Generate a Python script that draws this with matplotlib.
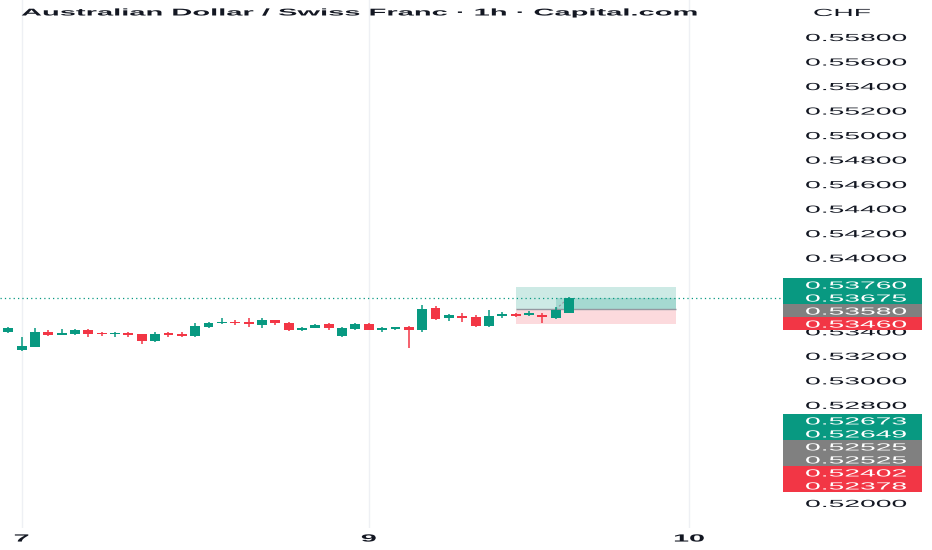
import numpy as np
import matplotlib
matplotlib.use('Agg')
import matplotlib.pyplot as plt
from matplotlib.patches import Rectangle
from matplotlib.patheffects import AbstractPathEffect
from matplotlib.transforms import Affine2D
from matplotlib.ticker import FuncFormatter

# hourly AUD/CHF candles
opens = [0.53393, 0.53246, 0.53275, 0.53398, 0.53371, 0.53376, 0.53414, 0.53381, 0.53376, 0.53387,
         0.53376, 0.53322, 0.53376, 0.53376, 0.53365, 0.53438, 0.53466, 0.53479, 0.53474, 0.53452,
         0.53491, 0.53469, 0.53409, 0.53430, 0.53458, 0.53365, 0.53420, 0.53458, 0.53414, 0.53420,
         0.53436, 0.53412, 0.53593, 0.53507, 0.53528, 0.53517, 0.53447, 0.53528, 0.53539, 0.53534,
         0.53536, 0.53507, 0.53553]
highs = [0.53432, 0.53357, 0.53425, 0.53412, 0.53420, 0.53418, 0.53418, 0.53398, 0.53398, 0.53392,
         0.53381, 0.53393, 0.53393, 0.53393, 0.53466, 0.53474, 0.53512, 0.53495, 0.53512, 0.53512,
         0.53495, 0.53479, 0.53436, 0.53463, 0.53466, 0.53436, 0.53466, 0.53466, 0.53438, 0.53436,
         0.53447, 0.53615, 0.53610, 0.53539, 0.53548, 0.53534, 0.53575, 0.53561, 0.53548, 0.53569,
         0.53552, 0.53597, 0.53680]
lows = [0.53387, 0.53240, 0.53270, 0.53365, 0.53368, 0.53372, 0.53357, 0.53365, 0.53357, 0.53357,
        0.53295, 0.53311, 0.53350, 0.53350, 0.53350, 0.53425, 0.53462, 0.53452, 0.53436, 0.53430,
        0.53452, 0.53403, 0.53403, 0.53425, 0.53412, 0.53355, 0.53412, 0.53409, 0.53398, 0.53409,
        0.53262, 0.53393, 0.53493, 0.53485, 0.53479, 0.53436, 0.53436, 0.53512, 0.53517, 0.53526,
        0.53471, 0.53499, 0.53548]
closes = [0.53425, 0.53284, 0.53398, 0.53371, 0.53381, 0.53414, 0.53376, 0.53376, 0.53381, 0.53371,
          0.53322, 0.53381, 0.53371, 0.53365, 0.53447, 0.53466, 0.53479, 0.53466, 0.53463, 0.53495,
          0.53469, 0.53409, 0.53425, 0.53452, 0.53430, 0.53425, 0.53458, 0.53414, 0.53425, 0.53430,
          0.53414, 0.53583, 0.53501, 0.53534, 0.53512, 0.53447, 0.53528, 0.53539, 0.53528, 0.53548,
          0.53515, 0.53575, 0.53675]

day_pos = [1, 27, 51]
day_labels = ['7', '9', '10']
price_ticks = np.round(np.arange(0.520, 0.5585, 0.002), 3)

# long position tool
pos_start, pos_end, fill_start = 38, 50, 41
target, entry, stop = 0.53760, 0.53580, 0.53460

# price scale labels
top_vals = [0.53760, 0.53675, 0.53580, 0.53460]
top_kinds = ['g', 'g', 'n', 'r']
low_vals = [0.52673, 0.52649, 0.52525, 0.52525, 0.52402, 0.52378]
low_kinds = ['g', 'g', 'n', 'n', 'r', 'r']

title = 'Australian Dollar / Swiss Franc \u00b7 1h \u00b7 Capital.com'

GREEN = '#089981'
RED = '#f23645'
GREY = '#808080'
INK = '#131722'
box_col = {'g': GREEN, 'r': RED, 'n': GREY}
SX = 2.75

plt.rcParams['font.family'] = ['Liberation Sans', 'DejaVu Sans']


class Wide(AbstractPathEffect):
    """draw text stretched sideways, like the squashed screenshot"""
    def __init__(self, sx, anchor='left'):
        super().__init__()
        self.sx = sx
        self.anchor = anchor

    def draw_path(self, renderer, gc, tpath, affine, rgbFace=None):
        ext = tpath.get_extents()
        cx = {'left': 0.0, 'center': (ext.x0 + ext.x1) / 2, 'right': ext.x1}[self.anchor]
        st = Affine2D().translate(-cx, 0).scale(self.sx, 1).translate(cx, 0)
        renderer.draw_path(gc, tpath, st + affine, rgbFace)


W, H = 932, 550
ax_w, ax_h = 792, 528
fig = plt.figure(figsize=(W / 100, H / 100), dpi=100)
ax = fig.add_axes([0, (H - ax_h) / H, ax_w / W, ax_h / H])
ax.set_xlim(-0.62, 58.7)
ax.set_ylim(0.51796, 0.56102)

o = np.array(opens)
h = np.array(highs)
l = np.array(lows)
c = np.array(closes)
x = np.arange(len(o))
cols = np.where(c >= o, GREEN, RED)
ax.vlines(x, l, h, colors=cols, linewidth=1.1, zorder=3)
ax.bar(x, np.maximum(np.abs(c - o), 0.00013), bottom=np.minimum(o, c), width=0.74,
       color=cols, linewidth=0, zorder=4)

# position zones
ax.add_patch(Rectangle((pos_start, entry), pos_end - pos_start, target - entry,
                       facecolor=GREEN, alpha=0.2, lw=0, zorder=1))
ax.add_patch(Rectangle((pos_start, stop), pos_end - pos_start, entry - stop,
                       facecolor=RED, alpha=0.18, lw=0, zorder=1))
ax.add_patch(Rectangle((fill_start, entry), pos_end - fill_start, c[-1] - entry,
                       facecolor=GREEN, alpha=0.2, lw=0, zorder=1.1))
ax.hlines(entry, pos_start, pos_end, color='#9598a1', lw=1, zorder=1.2)
ax.plot([fill_start, x[-1]], [entry, c[-1]], color='#9598a1', lw=0.8, ls=(0, (2, 2)), zorder=2)

ax.axhline(c[-1], color=GREEN, lw=0.9, ls=(0, (1, 2.5)), zorder=2)

# label stacks: row centres on the price scale
yr = ax.get_ylim()
row_h = 13 * (yr[1] - yr[0]) / ax_h
stacks = [(top_vals, top_kinds, 1), (low_vals, low_kinds, 0)]
rows = []
for vals, kinds, anchor in stacks:
    for k, (v, kd) in enumerate(zip(vals, kinds)):
        rows.append((vals[anchor] - (k - anchor) * row_h, v, kd))

# tick labels that sit (nearly) wholly under a coloured label are not shown
hidden = set()
for vals, kinds, anchor in stacks:
    y_top = vals[anchor] + anchor * row_h + row_h / 2
    y_bot = vals[anchor] - (len(vals) - 1 - anchor) * row_h - row_h / 2
    for tv in price_ticks:
        if y_bot + 0.3 * row_h < tv < y_top:
            hidden.add(round(tv, 3))


def price_fmt(v, pos):
    return '' if round(v, 3) in hidden else f'{v:.5f}'


# axes styling
for s in ax.spines.values():
    s.set_visible(False)
ax.grid(axis='x', color='#eef0f4', linewidth=1)
ax.set_axisbelow(True)
ax.set_xticks(day_pos)
ax.set_xticklabels(day_labels)
ax.tick_params(axis='x', length=0, pad=4, labelsize=7.5, labelcolor=INK)
ax.yaxis.tick_right()
ax.set_yticks(price_ticks)
ax.yaxis.set_major_formatter(FuncFormatter(price_fmt))
ax.tick_params(axis='y', length=0, pad=9.4, labelsize=7.4, labelcolor=INK)
for t in ax.xaxis.get_major_ticks():
    t.label1.set_fontweight('bold')
    t.label1.set_path_effects([Wide(SX, 'center')])
for t in ax.yaxis.get_major_ticks():
    t.label2.set_path_effects([Wide(SX)])

# coloured price labels on the scale
box_x0 = 783 / ax_w
box_w = 139 / ax_w
lab_x = 1 + 13 / ax_w
trans = ax.get_yaxis_transform()
for yc, v, kd in rows:
    ax.add_patch(Rectangle((box_x0, yc - row_h / 2), box_w, row_h, transform=trans,
                           facecolor=box_col[kd], lw=0, clip_on=False, zorder=5))
    ax.text(lab_x, yc, f'{v:.5f}', transform=trans, ha='left', va='center_baseline',
            color='white', fontsize=7.4, clip_on=False, zorder=6,
            path_effects=[Wide(SX)])

fig.text(21 / W, 1 - 12.5 / H, title, ha='left', va='center', fontsize=7.1, fontweight='bold',
         color=INK, path_effects=[Wide(2.95)])
fig.text(842 / W, 1 - 13 / H, 'CHF', ha='center', va='center', fontsize=7.4, color=INK,
         path_effects=[Wide(SX, 'center')])

fig.savefig('out.png', dpi=100)
